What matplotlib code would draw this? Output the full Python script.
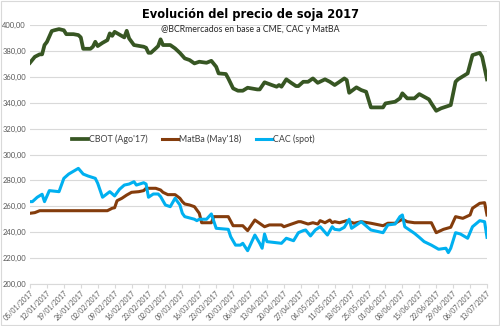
import numpy as np
import pandas as pd
import matplotlib
matplotlib.use('Agg')
import matplotlib.pyplot as plt
import matplotlib.dates as mdates
from matplotlib.patches import Rectangle
from matplotlib.ticker import FuncFormatter

inicio = pd.Timestamp('2017-01-05')

# dias desde 05/01/2017 y precio (USD/t)
cbot_dias = [0, 2, 4, 5, 6, 7, 9, 10, 12, 14, 15, 18, 20, 21, 22, 25, 26, 27, 28, 30,
             32, 33, 34, 35, 39, 40, 41, 43, 47, 48, 49, 50, 52, 53, 54, 55, 58, 60, 62, 64,
             66, 68, 70, 73, 75, 77, 78, 81, 82, 84, 86, 88, 90, 94, 95, 97, 100, 102, 103, 104,
             106, 108, 110, 111, 113, 115, 117, 119, 122, 124, 126, 128, 130, 131, 132, 135, 137, 139, 141, 146,
             147, 151, 153, 154, 156, 159, 161, 165, 166, 168, 170, 174, 176, 177, 181, 183, 186, 187, 189]
cbot = [370.9, 375.5, 377.4, 377.4, 384.6, 387.0, 395.4, 396.0, 396.9, 396.0, 393.0, 393.0, 392.3, 390.5, 381.7, 381.7, 383.3, 387.1, 383.8, 386.3,
        388.4, 393.6, 391.7, 394.8, 390.5, 395.6, 389.7, 384.6, 383.3, 382.5, 378.6, 378.6, 382.0, 383.8, 389.0, 384.6, 384.6, 382.0, 378.5, 374.3,
        373.0, 370.4, 371.7, 370.9, 372.4, 367.8, 362.7, 362.2, 358.8, 351.1, 349.3, 349.3, 351.6, 350.3, 350.3, 355.8, 353.7, 352.4, 353.7, 352.4,
        358.1, 355.4, 352.9, 352.9, 356.2, 356.2, 358.8, 355.4, 358.1, 356.2, 353.7, 356.2, 358.8, 357.5, 347.7, 351.9, 349.8, 348.5, 336.4, 336.4,
        339.5, 340.8, 343.4, 347.3, 343.4, 343.4, 346.7, 342.6, 339.5, 333.8, 335.7, 338.2, 356.2, 358.1, 362.7, 376.8, 378.6, 375.5, 358.1]

matba_dias = [0, 2, 4, 32, 34, 35, 36, 38, 40, 42, 45, 47, 48, 52, 54, 55, 57, 60, 62, 63,
              64, 66, 68, 70, 71, 75, 76, 82, 84, 88, 90, 93, 97, 99, 104, 105, 111, 112, 115, 117,
              119, 120, 122, 124, 125, 126, 128, 131, 134, 137, 141, 146, 148, 151, 154, 156, 159, 166, 168, 171,
              174, 176, 179, 182, 183, 186, 188, 189]
matba = [254.6, 255.1, 256.6, 256.6, 258.5, 258.9, 264.3, 266.2, 268.7, 270.8, 271.3, 272.1, 273.9, 273.9, 272.6, 270.8, 269.0, 269.0, 266.2, 263.6,
         261.8, 261.0, 259.7, 254.6, 247.3, 247.3, 252.0, 252.0, 245.0, 245.0, 241.2, 249.4, 244.2, 245.6, 245.6, 244.2, 248.1, 248.1, 246.3, 247.3,
         246.3, 248.9, 247.3, 249.4, 247.3, 248.1, 247.3, 248.9, 246.9, 248.1, 246.9, 245.0, 246.9, 246.9, 250.0, 248.1, 247.3, 247.3, 239.6, 242.2,
         243.8, 252.0, 250.7, 253.3, 258.5, 262.3, 262.8, 253.3]

cac_dias = [0, 1, 3, 5, 6, 8, 12, 14, 16, 20, 22, 24, 27, 28, 30, 33, 35, 37, 39, 41,
            43, 44, 47, 48, 49, 51, 53, 54, 56, 58, 60, 62, 63, 64, 68, 69, 70, 73, 75, 77,
            82, 83, 85, 87, 88, 90, 93, 95, 96, 97, 98, 104, 106, 109, 111, 113, 114, 116, 118, 120,
            123, 125, 126, 128, 130, 132, 133, 137, 141, 146, 148, 151, 153, 154, 155, 159, 161, 163, 166, 169,
            172, 173, 174, 176, 178, 181, 183, 186, 188, 189]
cac = [263.6, 263.6, 267.0, 269.3, 263.6, 272.1, 271.3, 281.6, 284.9, 289.3, 284.9, 283.4, 281.6, 277.8, 267.0, 271.3, 268.0, 273.1, 276.4, 277.2,
       279.0, 276.4, 278.2, 277.2, 267.0, 269.5, 269.5, 267.5, 261.0, 259.7, 266.2, 261.0, 254.6, 252.0, 250.0, 248.9, 250.0, 250.0, 254.1, 243.0,
       242.2, 236.5, 230.0, 230.0, 231.4, 225.7, 237.8, 231.4, 227.6, 238.6, 232.7, 231.4, 235.3, 233.4, 239.6, 241.2, 241.7, 237.1, 241.7, 244.2,
       237.8, 244.2, 242.2, 241.7, 243.8, 250.0, 243.0, 248.1, 241.7, 239.6, 245.6, 246.3, 252.0, 253.3, 244.2, 239.1, 236.0, 232.7, 230.0, 226.8,
       227.6, 224.2, 227.6, 239.6, 238.6, 235.3, 244.2, 248.9, 248.1, 236.0]

series = [
    ("CBOT (Ago'17)", cbot_dias, cbot, '#375623', 2.7),
    ("MatBa (May'18)", matba_dias, matba, '#843c0c', 2.2),
    ("CAC (spot)", cac_dias, cac, '#00b0f0', 2.2),
]

plt.rcParams['font.family'] = ['Lato', 'DejaVu Sans']

fig = plt.figure(figsize=(5.0, 3.26), dpi=100)
ax = fig.add_axes([0.06, 0.129, 0.914, 0.794])

for nombre, dias, valores, color, lw in series:
    fechas = inicio + pd.to_timedelta(dias, unit='D')
    ax.plot(fechas, valores, color=color, lw=lw, label=nombre, solid_joinstyle='round')

ax.set_ylim(200, 400)
ax.set_yticks(np.arange(200, 401, 20))
ax.yaxis.set_major_formatter(FuncFormatter(lambda v, p: f'{v:.2f}'.replace('.', ',')))
ax.set_xlim(inicio, inicio + pd.Timedelta(days=189))
ticks = pd.date_range(inicio, periods=28, freq='7D')
ax.set_xticks(ticks)
ax.xaxis.set_major_formatter(mdates.DateFormatter('%d/%m/%Y'))

ax.grid(axis='y', color='#d9d9d9', lw=0.8)
ax.set_axisbelow(True)
for s in ['top', 'right', 'left']:
    ax.spines[s].set_visible(False)
ax.spines['bottom'].set_color('#d9d9d9')
ax.tick_params(axis='y', length=0, labelsize=5.5, labelcolor='#595959', pad=3)
ax.tick_params(axis='x', length=3, color='#d9d9d9', labelsize=5, labelcolor='#595959', pad=1)
for lab in ax.get_xticklabels():
    lab.set_rotation(45)
    lab.set_ha('right')
    lab.set_rotation_mode('anchor')

fig.text(0.5, 0.954, 'Evolución del precio de soja 2017', ha='center', va='center',
         fontsize=9.2, fontweight='bold', fontstretch='condensed',
         family=['DejaVu Sans'])
fig.text(0.5, 0.908, '@BCRmercados en base a CME, CAC y MatBA', ha='center', va='center',
         fontsize=6.3, color='#262626')

fig.legend(loc='center', bbox_to_anchor=(0.386, 0.574), ncol=3, frameon=False,
           fontsize=6.4, handlelength=1.8, handletextpad=0.15, columnspacing=1.6,
           labelcolor='#404040')

fig.patches.append(Rectangle((0.002, 0.003), 0.996, 0.994, transform=fig.transFigure,
                             fill=False, edgecolor='#d9d9d9', lw=0.8))

fig.savefig('out.png', dpi=100)
